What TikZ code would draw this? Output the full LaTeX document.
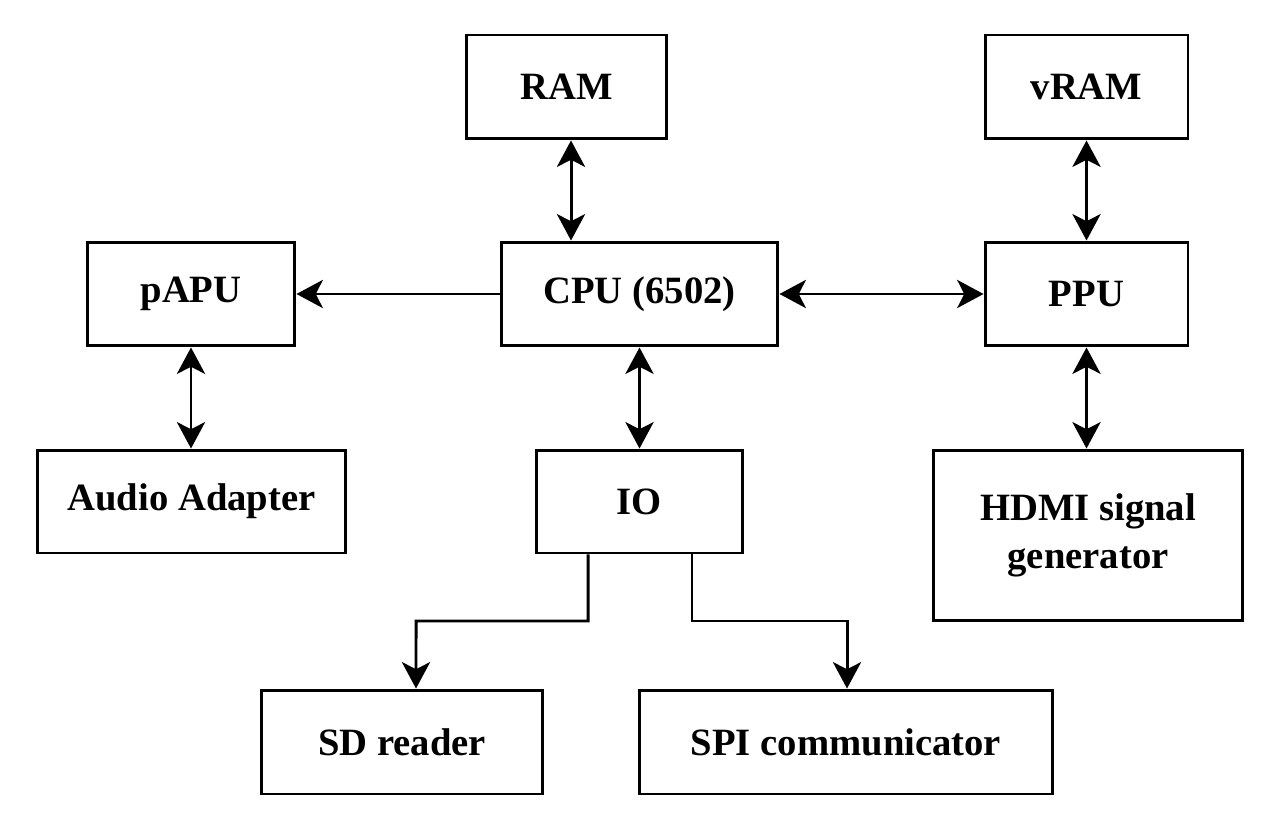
\documentclass[tikz,border=0pt]{standalone}
\usepackage{fontspec}
\setmainfont{Liberation Serif}
\usetikzlibrary{arrows.meta}

\tikzset{
  blk/.style={draw, line width=1.7pt, inner sep=0pt, align=center,
    font=\fontsize{22}{27}\selectfont\bfseries},
  link/.style={line width=1.7pt, -{Stealth[length=15pt,width=16pt,inset=4pt]}},
  dlink/.style={line width=1.7pt, {Stealth[length=15pt,width=16pt,inset=4pt]}-{Stealth[length=15pt,width=16pt,inset=4pt]}}
}

\begin{document}
\begin{tikzpicture}[x=0.02cm,y=-0.02cm]
\useasboundingbox (0,0) rectangle (1280,834);

\node[blk, minimum width=4.02cm, minimum height=2.08cm] (ram) at (566.5,87) {RAM};
\node[blk, minimum width=4.06cm, minimum height=2.08cm] (vram) at (1086.5,87) {vRAM};
\node[blk, minimum width=4.16cm, minimum height=2.08cm] (papu) at (191,294) {pAPU};
\node[blk, minimum width=5.54cm, minimum height=2.08cm] (cpu) at (639.5,294) {CPU (6502)};
\node[blk, minimum width=4.06cm, minimum height=2.08cm] (ppu) at (1086.5,294) {PPU};
\node[blk, minimum width=6.18cm, minimum height=2.06cm] (audio) at (191.5,501.5) {Audio Adapter};
\node[blk, minimum width=4.14cm, minimum height=2.06cm] (io) at (639.5,501.5) {IO};
\node[blk, minimum width=6.2cm, minimum height=3.42cm] (hdmi) at (1088,535.5) {HDMI signal\\generator};
\node[blk, minimum width=5.64cm, minimum height=2.08cm] (sd) at (402,742) {SD reader};
\node[blk, minimum width=8.28cm, minimum height=2.08cm] (spi) at (846,742) {SPI communicator};

% buses
\draw[dlink] ([xshift=0.09cm]ram.south) -- ([xshift=0.09cm]ram.south |- cpu.north);
\draw[dlink] (vram.south) -- (ppu.north);
\draw[link] (cpu.west) -- (papu.east);
\draw[dlink] (cpu.east) -- (ppu.west);
\draw[dlink] (papu.south) -- (papu.south |- audio.north);
\draw[dlink] (cpu.south) -- (io.north);
\draw[dlink] (ppu.south) -- (ppu.south |- hdmi.north);

% io lines
\draw[link] ([xshift=-1.03cm]io.south) |- (416,621) -- ([xshift=0.28cm]sd.north);
\draw[link] ([xshift=1.05cm]io.south) |- (847,621) -- ([xshift=0.02cm]spi.north);

\end{tikzpicture}
\end{document}
